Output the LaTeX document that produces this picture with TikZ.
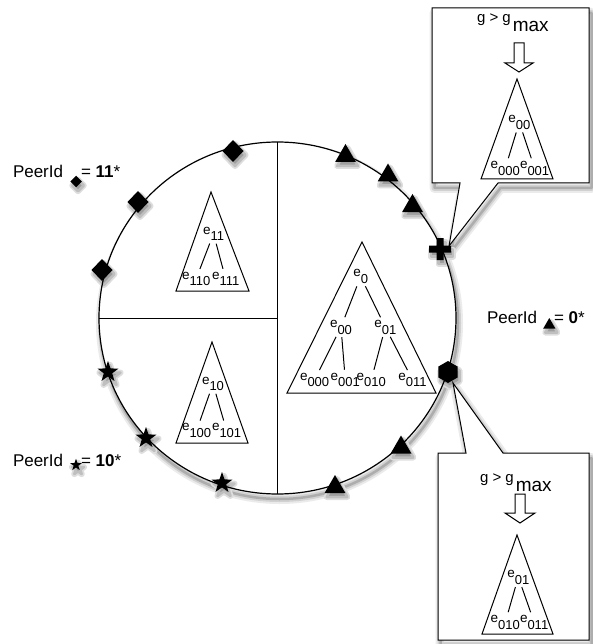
\documentclass[tikz,border=0pt]{standalone}
\usepackage{fontspec}
\setmainfont{Liberation Sans}
\usetikzlibrary{shapes.geometric}
\newcommand{\elab}[1]{\fontsize{13.5}{14}\selectfont e\raisebox{-0.5em}{\fontsize{13}{14}\selectfont #1}}
\newcommand{\gmaxtext}{\fontsize{15}{16}\selectfont g > g\hspace{2pt}\raisebox{-9pt}{\fontsize{19}{20}\selectfont max}}
\begin{document}
\begin{tikzpicture}[x=1pt,y=-1pt,
  bigA/.style={draw=black!8,fill=none,line width=10pt,line join=round},
  bigB/.style={draw=black!18,fill=none,line width=6pt,line join=round},
  bigC/.style={draw=black!32,fill=none,line width=2.5pt,line join=round},
  shouter/.style={fill=none,draw=black!13,line width=6pt,line join=round},
  shinner/.style={fill=black!38,draw=black!25,line width=2.5pt,line join=round},
  mk/.style={fill=black,draw=none,inner sep=0pt,outer sep=0pt},
  diam/.style={mk,diamond,minimum width=21pt,minimum height=22pt},
  tri/.style={mk,regular polygon,regular polygon sides=3,minimum size=24pt},
  starm/.style={mk,star,star points=5,star point ratio=2.5,minimum size=22pt},
  hexm/.style={mk,regular polygon,regular polygon sides=6,shape border rotate=30,minimum size=22pt},
  treebox/.style={draw,line width=1pt,fill=white,line join=miter},
  treeline/.style={line width=1pt,shorten <=3pt,shorten >=3pt},
  lab/.style={inner sep=0pt,outer sep=0pt,anchor=base west},
  callout/.style={draw,line width=1pt,fill=white,line join=miter},
  hollow/.style={draw,line width=1pt,fill=white,line join=miter},
  peer/.style={inner sep=0pt,outer sep=0pt,font=\fontsize{17}{18}\selectfont,anchor=base west}
]
\useasboundingbox (0,0) rectangle (592,644);

\coordinate (rc) at (277.5,318);
\coordinate (tipT) at (449,246);
\coordinate (tipB) at (453,383);
\coordinate (p1) at (440,249);
\coordinate (rcs) at (279.5,323);

% soft shadows of callouts and ring
\foreach \st in {bigA,bigB,bigC}{
  \draw[\st] (434.5,13) -- (591.5,13) -- (591.5,188) -- (500.5,188) -- (451.5,251) -- (462.5,188) -- (434.5,188) -- cycle;
  \draw[\st] (440.5,458) -- (468.5,458) -- (455.5,388) -- (505.5,458) -- (591.5,458) -- (591.5,645) -- (440.5,645) -- cycle;
  \draw[\st] (rcs) ellipse [x radius=178.5pt, y radius=176pt];
}
\node[ellipse,fill=white,inner sep=0pt,
  minimum width=357pt,minimum height=352pt] (ring) at (rc) {};

% marker shadows (under the ring line)
\foreach \st in {shouter,shinner}{
  \node[diam,\st] (d1s) at (235,155) {};
  \node[diam,\st] (d2s) at (140,206) {};
  \node[diam,\st] (d3s) at (104,274) {};
  \node[tri,\st] (r1s) at (347.5,160) {};
  \node[tri,\st] (r2s) at (390,179.5) {};
  \node[tri,\st] (r3s) at (414.5,210) {};
  \node[tri,\st] (r4s) at (403,451.5) {};
  \node[tri,\st] (r5s) at (337,491) {};
  \node[starm,\st] (s1s) at (110,376) {};
  \node[starm,\st] (s2s) at (148,442) {};
  \node[starm,\st] (s3s) at (224,487) {};
  \node[hexm,\st] (h1s) at (450,376) {};
  \draw[\st] (438.5,242) -- ++(7,0) -- ++(0,7.5) -- ++(7.5,0) -- ++(0,7) -- ++(-7.5,0) -- ++(0,7.5) -- ++(-7,0) -- ++(0,-7.5) -- ++(-7.5,0) -- ++(0,-7) -- ++(7.5,0) -- cycle;
  \node[diam,\st,minimum width=11.5pt,minimum height=11.5pt] (lds) at (78,185.5) {};
  \node[tri,\st,minimum size=14pt] (lts) at (551.3,329) {};
  \node[starm,\st,minimum size=12.5pt] (lss) at (78,469) {};
}

% ring outline and dividers
\draw[line width=1.2pt] (ring.center) ellipse [x radius=178.5pt, y radius=176pt];
\draw[line width=1pt] (ring.north) -- (ring.south);
\draw[line width=1pt] (ring.west) -- (ring.center);

% main tree
\coordinate (mA) at (362,242);
\coordinate (mB) at (436,393);
\coordinate (mC) at (287,393);
\draw[treebox] (mA) -- (mB) -- (mC) -- cycle;
\node[lab] (m0) at (353.3,276.7) {\elab{0}};
\node[lab] (m00) at (330,327.3) {\elab{00}};
\node[lab] (m01) at (374.3,327.3) {\elab{01}};
\node[lab] (m000) at (300,380) {\elab{000}};
\node[lab] (m001) at (330.7,380) {\elab{001}};
\node[lab] (m010) at (356.7,380) {\elab{010}};
\node[lab] (m011) at (398.3,380) {\elab{011}};
\draw[treeline] (m0) -- (m00);
\draw[treeline] (m0) -- (m01);
\draw[treeline] (m00) -- (m000);
\draw[treeline] (m00) -- (m001);
\draw[treeline] (m01) -- (m010);
\draw[treeline] (m01) -- (m011);

% top-left tree
\coordinate (aA) at (211,192);
\coordinate (aB) at (249,291);
\coordinate (aC) at (176,291);
\draw[treebox] (aA) -- (aB) -- (aC) -- cycle;
\node[lab] (a11) at (203,234) {\elab{11}};
\node[lab] (a110) at (182,279) {\elab{110}};
\node[lab] (a111) at (212,279) {\elab{111}};
\draw[treeline] (a11) -- (a110);
\draw[treeline] (a11) -- (a111);

% bottom-left tree
\coordinate (bA) at (212,342);
\coordinate (bB) at (248,443);
\coordinate (bC) at (176,443);
\draw[treebox] (bA) -- (bB) -- (bC) -- cycle;
\node[lab] (b10) at (202,384) {\elab{10}};
\node[lab] (b100) at (182,430.7) {\elab{100}};
\node[lab] (b101) at (212,430.7) {\elab{101}};
\draw[treeline] (b10) -- (b100);
\draw[treeline] (b10) -- (b101);

% top callout
\draw[callout] (432,8) -- (589,8) -- (589,183) -- (498,183) -- (tipT) -- (460,183) -- (432,183) -- cycle;
\node[lab] (gT) at (477,22.7) {\gmaxtext};
\draw[hollow] (514,43) -- (524,43) -- (524,63) -- (533,63) -- (519,72) -- (505,63) -- (514,63) -- cycle;
\coordinate (tA) at (517,79);
\coordinate (tB) at (553,179);
\coordinate (tC) at (481,179);
\draw[treebox] (tA) -- (tB) -- (tC) -- cycle;
\node[lab] (t00) at (508.3,122.7) {\elab{00}};
\node[lab] (t000) at (490.7,168.3) {\elab{000}};
\node[lab] (t001) at (520,168.3) {\elab{001}};
\draw[treeline] (t00) -- (t000);
\draw[treeline] (t00) -- (t001);

% bottom callout
\draw[callout] (438,453) -- (466,453) -- (tipB) -- (503,453) -- (589,453) -- (589,640) -- (438,640) -- cycle;
\node[lab] (gB) at (480,482.7) {\gmaxtext};
\draw[hollow] (515,494) -- (525,494) -- (525,513) -- (535,513) -- (520,523) -- (505,513) -- (515,513) -- cycle;
\coordinate (uA) at (517,535);
\coordinate (uB) at (553,634);
\coordinate (uC) at (482,634);
\draw[treebox] (uA) -- (uB) -- (uC) -- cycle;
\node[lab] (u01) at (507.3,577.3) {\elab{01}};
\node[lab] (u010) at (490.7,622.3) {\elab{010}};
\node[lab] (u011) at (520,622.3) {\elab{011}};
\draw[treeline] (u01) -- (u010);
\draw[treeline] (u01) -- (u011);

% markers on the ring
\node[diam] (d1) at (233,151) {};
\node[diam] (d2) at (138,202) {};
\node[diam] (d3) at (102,270) {};
\node[tri] (r1) at (345.5,156) {};
\node[tri] (r2) at (388,175.5) {};
\node[tri] (r3) at (412.5,206) {};
\node[tri] (r4) at (401,447.5) {};
\node[tri] (r5) at (335,487) {};
\node[starm] (s1) at (108,372) {};
\node[starm] (s2) at (146,438) {};
\node[starm] (s3) at (222,483) {};
\node[hexm] (h1) at (448,372) {};
\fill (p1) ++(-3.5,-11) -- ++(7,0) -- ++(0,7.5) -- ++(7.5,0) -- ++(0,7) -- ++(-7.5,0) -- ++(0,7.5) -- ++(-7,0) -- ++(0,-7.5) -- ++(-7.5,0) -- ++(0,-7) -- ++(7.5,0) -- cycle;

% legends
\node[peer] (pl1) at (13,178) {PeerId};
\node[diam,minimum width=11.5pt,minimum height=11.5pt] (ld) at (76,181.5) {};
\node[peer] (pv1) at (81,178) {= \textbf{11}*};

\node[peer] (pl2) at (487,323) {PeerId};
\node[tri,minimum size=14pt] (lt) at (549.3,325) {};
\node[peer] (pv2) at (554,323) {= \textbf{0}*};

\node[peer] (pl3) at (13,466) {PeerId};
\node[starm,minimum size=12.5pt] (ls) at (76,465) {};
\node[peer] (pv3) at (81,466) {= \textbf{10}*};
\end{tikzpicture}
\end{document}
